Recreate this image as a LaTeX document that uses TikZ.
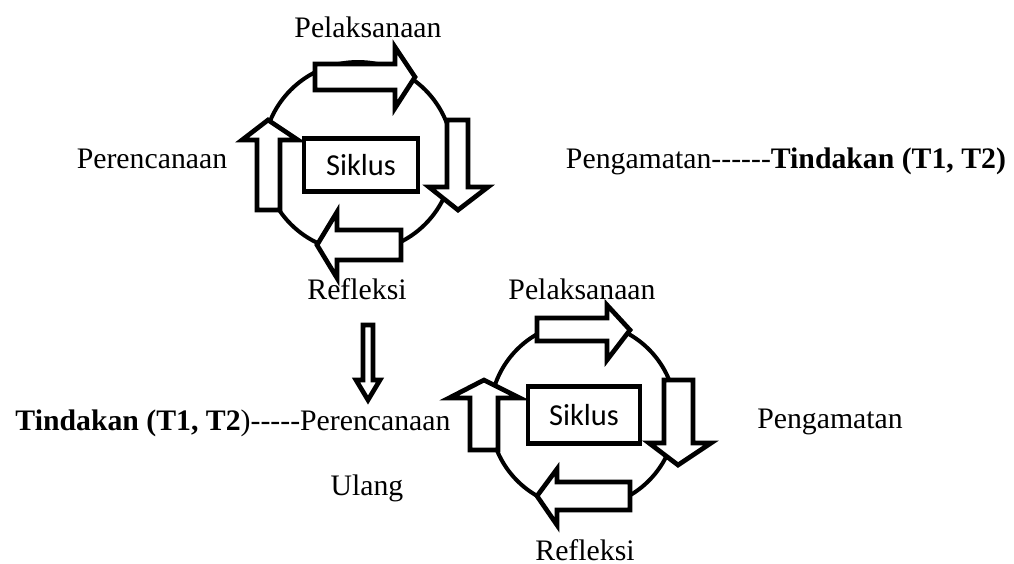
\documentclass[tikz,border=0pt]{standalone}
\usepackage{fontspec}
\setmainfont{Liberation Serif}
\newfontfamily\boxfont{Carlito}
\usepackage{tikz}
\usetikzlibrary{positioning}
\tikzset{labelText/.style={inner sep=0pt,outer sep=0pt,anchor=base,font=\fontsize{12.7}{15}\selectfont}}
\tikzset{cycleBox/.style={rectangle,draw,fill=white,line width=1.9pt,inner sep=0pt,font=\boxfont\fontsize{13}{15}\selectfont}}
\tikzset{blockArrow/.style={draw,fill=white,line width=2pt,line join=miter,miter limit=20}}
\tikzset{ring/.style={draw,line width=1.7pt}}
% plain hyphens, kept apart so they do not turn into dashes
\newcommand{\hyph}[1]{\foreach \i in {1,...,#1}{-{}}}

\begin{document}
\begin{tikzpicture}[x=0.015cm,y=-0.015cm]
  \useasboundingbox (0,0) rectangle (1014,563);

  % first cycle
  \draw[ring] (358,157) circle [radius=1.425cm];
  \node[cycleBox,minimum width=1.71cm,minimum height=0.8cm] (siklusA) at (361,165) {Siklus};
  \draw[blockArrow] (315,64) -- (395,64) -- (395,47) -- (415,77) -- (395,108) -- (395,90) -- (315,90) -- cycle;
  \draw[blockArrow] (447,120) -- (447,187) -- (429,187) -- (458,210) -- (488,187) -- (468,187) -- (468,120) -- cycle;
  \draw[blockArrow] (401,230) -- (337,230) -- (337,212) -- (317,245) -- (337,278) -- (337,260) -- (401,260) -- cycle;
  \draw[blockArrow] (257,210) -- (257,140) -- (242,140) -- (268,120) -- (298,140) -- (280,140) -- (280,210) -- cycle;
  \node[labelText] (pelA) at (368,37) {Pelaksanaan};
  \node[labelText] (perA) at (152,168) {Perencanaan};
  \node[labelText] (pengA) at (786,168) {Pengamatan\hyph{6}\textbf{Tindakan (T1, T2)}};
  \node[labelText] (refA) at (357,299) {Refleksi};

  % from the first cycle down to the second
  \draw[blockArrow] (363,325) -- (363,380) -- (356,380) -- (368,400) -- (380,380) -- (373,380) -- (373,325) -- cycle;

  % second cycle
  \draw[ring] (583,415) circle [radius=1.395cm];
  \node[cycleBox,minimum width=1.68cm,minimum height=0.855cm] (siklusB) at (584,415) {Siklus};
  \draw[blockArrow] (537,318) -- (607,318) -- (607,305) -- (630,330) -- (607,360) -- (607,341) -- (537,341) -- cycle;
  \draw[blockArrow] (664,380) -- (664,443) -- (649,443) -- (678,465) -- (711,443) -- (693,443) -- (693,380) -- cycle;
  \draw[blockArrow] (630,482) -- (557,482) -- (557,469) -- (537,496) -- (557,525) -- (557,510) -- (630,510) -- cycle;
  \draw[blockArrow] (470,450) -- (470,398) -- (449,398) -- (484,380) -- (520,398) -- (498,398) -- (498,450) -- cycle;
  \node[labelText] (pelB) at (582,299) {Pelaksanaan};
  \node[labelText] (perB) at (233,430) {\textbf{Tindakan (T1, T2})\hyph{5}Perencanaan};
  \node[labelText] (ulang) at (367,495) {Ulang};
  \node[labelText] (pengB) at (830,428) {Pengamatan};
  \node[labelText] (refB) at (585,560) {Refleksi};
\end{tikzpicture}
\end{document}
